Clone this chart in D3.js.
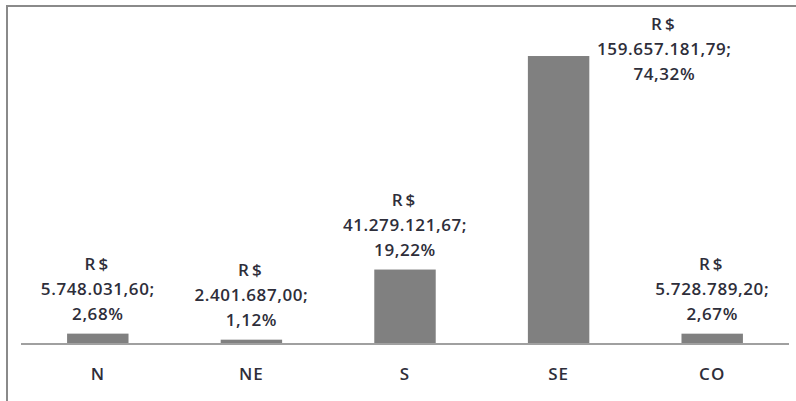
<!DOCTYPE html>
<head>
    <meta charset="utf-8">
    <style>
      body {
          margin: 0;
          background: #fff;
      }

      .frame {
        fill: none;
        stroke: #8a8a8a;
        stroke-width: 2px;
      }

      .bar {
        fill: #808080;
      }

      .baseline {
        stroke: #a0a0a0;
        stroke-width: 2px;
      }

      text {
        font-family: 'Open Sans', sans-serif;
        font-size: 17px;
        font-weight: 600;
        fill: #2e2e3a;
      }

      .cat {
        letter-spacing: 1px;
      }
  </style>
</head>
<body>
<svg id="chart" width="796" height="401"></svg>
<script src="https://cdn.jsdelivr.net/npm/d3@7"></script>
<script>
  const regions = ["N", "NE", "S", "SE", "CO"]
  const values = [5748031.60, 2401687.00, 41279121.67, 159657181.79, 5728789.20]
  const valueLabels = ["5.748.031,60;", "2.401.687,00;", "41.279.121,67;", "159.657.181,79;", "5.728.789,20;"]
  const percentLabels = ["2,68%", "1,12%", "19,22%", "74,32%", "2,67%"]

  var svg = d3.select("#chart")
  var left = 21, right = 789, base = 344

  // outer frame (top and left edges visible)
  svg.append("path")
    .attr("class", "frame")
    .attr("d", "M7 401 V6 H796")

  var x = d3.scaleBand()
    .domain(regions)
    .range([left, right])
    .paddingInner(0.6)
    .paddingOuter(0.3)

  var y = d3.scaleLinear()
    .domain([0, 160000000])
    .range([base, base - 288.6])

  var data = regions.map(function(r, i) {
    return { region: r, value: values[i], label: valueLabels[i], pct: percentLabels[i] }
  })

  svg.selectAll("rect.bar")
    .data(data)
    .enter().append("rect")
      .attr("class", "bar")
      .attr("x", d => x(d.region))
      .attr("width", x.bandwidth())
      .attr("y", d => y(d.value))
      .attr("height", d => base - y(d.value))

  svg.append("line")
    .attr("class", "baseline")
    .attr("x1", left).attr("x2", right)
    .attr("y1", base).attr("y2", base)

  // category labels
  svg.selectAll("text.cat")
    .data(regions)
    .enter().append("text")
      .attr("class", "cat")
      .attr("text-anchor", "middle")
      .attr("x", d => x(d) + x.bandwidth() / 2)
      .attr("y", 380)
      .text(d => d)

  // data labels: three lines above the bar, or beside it when there is no room
  var lineGap = 25
  var labels = svg.selectAll("g.label")
    .data(data)
    .enter().append("g")
      .attr("class", "label")
      .attr("transform", function(d) {
        var top = y(d.value)
        var cx = x(d.region) + x.bandwidth() / 2
        var lastBase = top - 14
        if (lastBase - 2 * lineGap < 30) {
          cx = x(d.region) + x.bandwidth() + 75
          lastBase = 30 + 2 * lineGap
        }
        return "translate(" + cx + "," + lastBase + ")"
      })

  labels.each(function(d) {
    var g = d3.select(this)
    var lines = ["R$", d.label, d.pct]
    lines.forEach(function(t, i) {
      g.append("text")
        .attr("text-anchor", "middle")
        .attr("y", (i - 2) * lineGap)
        .attr("letter-spacing", i == 0 ? "3px" : "0.6px")
        .text(t)
    })
  })
</script>
</body>
